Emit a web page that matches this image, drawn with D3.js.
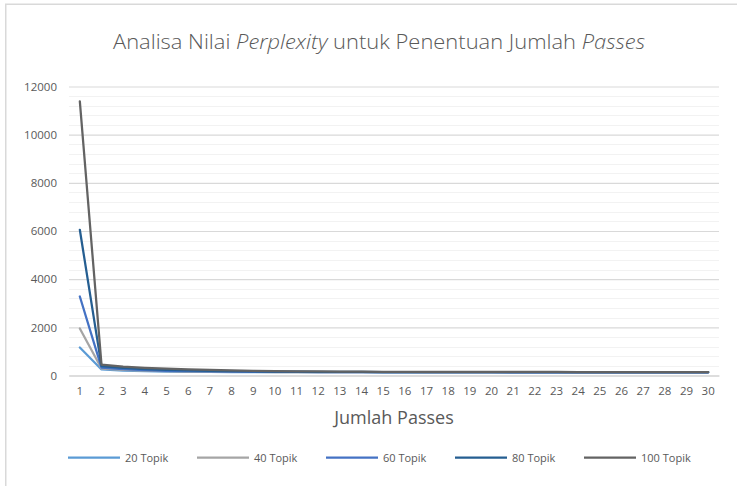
<!DOCTYPE html>
<html><head><meta charset="utf-8">
<script src="https://cdn.jsdelivr.net/npm/d3@7"></script>
<style>body{margin:0;background:#fff}svg{display:block}</style>
</head><body>
<svg id="chart" width="737" height="486"></svg>
<script>
const passes = d3.range(1, 31).map(String);
const seriesNames = ["20 Topik", "40 Topik", "60 Topik", "80 Topik", "100 Topik"];
const topik20  = [1160, 250, 205, 180, 165, 155, 149, 145, 142, 140, 138, 137, 136, 135, 134, 134, 133, 133, 132, 132, 132, 131, 131, 131, 131, 130, 130, 130, 130, 130];
const topik40  = [1950, 290, 235, 200, 180, 166, 157, 151, 147, 144, 141, 139, 138, 137, 136, 135, 134, 134, 133, 133, 132, 132, 132, 131, 131, 131, 131, 130, 130, 130];
const topik60  = [3280, 330, 265, 225, 197, 180, 168, 160, 154, 149, 146, 143, 141, 140, 138, 137, 136, 136, 135, 135, 134, 134, 133, 133, 133, 132, 132, 132, 132, 131];
const topik80  = [6050, 390, 315, 265, 232, 208, 190, 177, 168, 161, 156, 152, 149, 147, 145, 144, 143, 142, 141, 140, 140, 139, 139, 138, 138, 138, 137, 137, 137, 137];
const topik100 = [11380, 450, 370, 320, 285, 255, 232, 213, 197, 183, 174, 167, 162, 158, 155, 153, 151, 150, 149, 148, 147, 146, 146, 145, 145, 144, 144, 144, 143, 143];
const yTicks = [0, 2000, 4000, 6000, 8000, 10000, 12000];
const colors = ["#5B9BD5", "#A5A5A5", "#4472C4", "#255E91", "#636363"];
const allSeries = [topik20, topik40, topik60, topik80, topik100];

const svg = d3.select("#chart");
const font = "Open Sans, Lato, sans-serif";
const textCol = "#595959";

// chart frame
svg.append("rect").attr("x", 5.75).attr("y", 4.25).attr("width", 745).attr("height", 495)
  .attr("fill", "#fff").attr("stroke", "#d9d9d9").attr("stroke-width", 1.5);

const x = d3.scaleBand().domain(passes).range([69, 719]);
const y = d3.scaleLinear().domain([0, 12000]).range([375.5, 86.5]);

// minor gridlines
const minor = d3.range(0, 12001, 400).filter(v => v % 2000 !== 0);
svg.append("g").selectAll("line").data(minor).join("line")
  .attr("x1", 69).attr("x2", 719)
  .attr("y1", d => Math.round(y(d)) + 0.5).attr("y2", d => Math.round(y(d)) + 0.5)
  .attr("stroke", "#f2f2f2").attr("stroke-width", 1);

// y axis with major gridlines
const yAxis = d3.axisLeft(y).tickValues(yTicks).tickSize(-650).tickPadding(12).tickFormat(d3.format("d"));
const gy = svg.append("g").attr("transform", "translate(69,0)").call(yAxis);
gy.select(".domain").remove();
gy.selectAll(".tick line").attr("stroke", "#d9d9d9").attr("stroke-width", 1.2);
gy.selectAll(".tick text").attr("fill", textCol).style("font-family", font).style("font-size", "11.5px");

// x axis
const xAxis = d3.axisBottom(x).tickSize(0).tickPadding(11);
const gx = svg.append("g").attr("transform", "translate(0,375.5)").call(xAxis);
gx.select(".domain").attr("stroke", "#d9d9d9").attr("stroke-width", 1.5);
gx.selectAll(".tick text").attr("fill", textCol).style("font-family", font).style("font-size", "11.5px");

// lines
const line = d3.line().x((d, i) => x(passes[i]) + x.bandwidth() / 2).y(d => y(d));
svg.append("g").selectAll("path").data(allSeries).join("path")
  .attr("d", d => line(d)).attr("fill", "none")
  .attr("stroke", (d, i) => colors[i]).attr("stroke-width", 2.25)
  .attr("stroke-linejoin", "round").attr("stroke-linecap", "round");

// title
const title = svg.append("text").attr("x", 379).attr("y", 49).attr("text-anchor", "middle")
  .attr("fill", textCol).style("font-family", font).style("font-size", "21px").style("font-weight", 300)
  .attr("textLength", 532).attr("lengthAdjust", "spacingAndGlyphs");
title.append("tspan").text("Analisa Nilai ");
title.append("tspan").style("font-style", "italic").text("Perplexity");
title.append("tspan").text(" untuk Penentuan Jumlah ");
title.append("tspan").style("font-style", "italic").text("Passes");

// axis title
svg.append("text").attr("x", 394).attr("y", 424).attr("text-anchor", "middle")
  .attr("fill", textCol).style("font-family", font).style("font-size", "18px")
  .text("Jumlah Passes");

// legend
const leg = svg.append("g").selectAll("g").data(seriesNames).join("g")
  .attr("transform", (d, i) => `translate(${68 + i * 129},457.5)`);
leg.append("line").attr("x1", 0).attr("x2", 52).attr("stroke", (d, i) => colors[i]).attr("stroke-width", 2.25);
leg.append("text").attr("x", 57).attr("y", 4).attr("fill", textCol)
  .style("font-family", font).style("font-size", "11px").text(d => d);
</script>
</body></html>
